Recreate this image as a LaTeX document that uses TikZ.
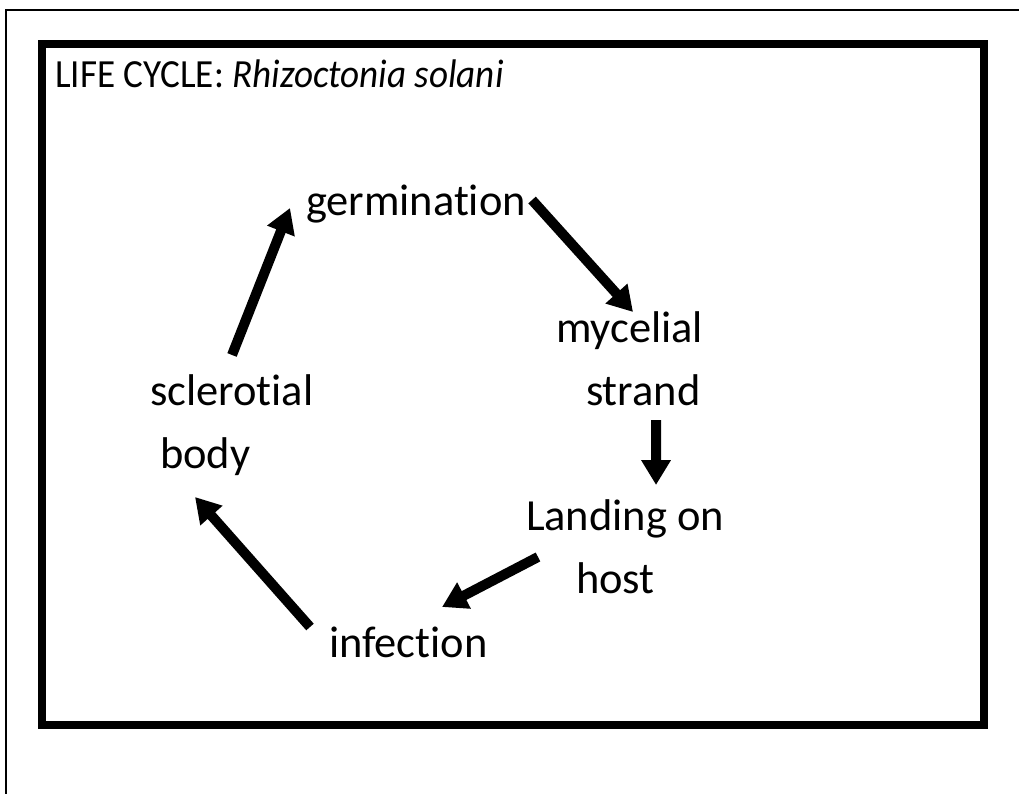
\documentclass[tikz,border=0pt]{standalone}
\usepackage{fontspec}
\setmainfont{Carlito}[Ligatures=NoCommon]
\newfontfamily\titlefont{Carlito}[Ligatures=NoCommon, FakeStretch=0.93]
\usepackage{tikz}
\usetikzlibrary{arrows.meta}

\begin{document}
\begin{tikzpicture}[
    x=0.025cm, y=-0.025cm,
    stage/.style = {inner sep=0pt, outer sep=0pt, anchor=base west, align=left, font=\fontsize{31.6pt}{44.8pt}\selectfont},
    titletext/.style = {inner sep=0pt, anchor=base west, font=\titlefont\fontsize{28.4pt}{34pt}\selectfont},
    arrow/.style = {draw=black, line width=0.25cm, -{Triangle[length=0.62cm, width=0.7cm]}}
]

% page and frames
\useasboundingbox (0,0) rectangle (1019,794);
\fill[white] (0,0) rectangle (1019,794);
\draw[line width=0.04cm] (6,794) -- (6,10) -- (1019,10);
\draw[line width=0.2cm] (42,44) rectangle (984,725);

% title
\node (title) [titletext] at (55,88) {LIFE CYCLE: \textit{Rhizoctonia solani}};

% stages of the cycle (base = last line)
\node (germ) [stage] at (306,215) {germination};
\node (myc) [stage] at (556,405) {mycelial\\\hspace*{0.75cm}strand};
\node (land) [stage] at (526,593) {Landing on\\\hspace*{1.25cm}host};
\node (inf) [stage] at (329,657) {infection};
\node (scl) [stage] at (150,468) {sclerotial\\\hspace*{0.25cm}body};

% cycle arrows
\draw [arrow] ([xshift=2.05cm, yshift=2.825cm]scl.base west) -- ([xshift=-0.4cm, yshift=0.175cm]germ.base west);
\draw [arrow] ([xshift=5.65cm, yshift=0.375cm]germ.base west) -- ([xshift=1.925cm, yshift=2.325cm]myc.base west);
\draw [arrow] ([xshift=2.5cm, yshift=-0.375cm]myc.base west) -- ([xshift=3.25cm, yshift=2.7cm]land.base west);
\draw [arrow] ([xshift=0.3cm, yshift=0.9cm]land.base west) -- ([xshift=2.825cm, yshift=1.25cm]inf.base west);
\draw [arrow] ([xshift=-0.475cm, yshift=0.75cm]inf.base west) -- ([xshift=1.125cm, yshift=-0.725cm]scl.base west);

\end{tikzpicture}
\end{document}
